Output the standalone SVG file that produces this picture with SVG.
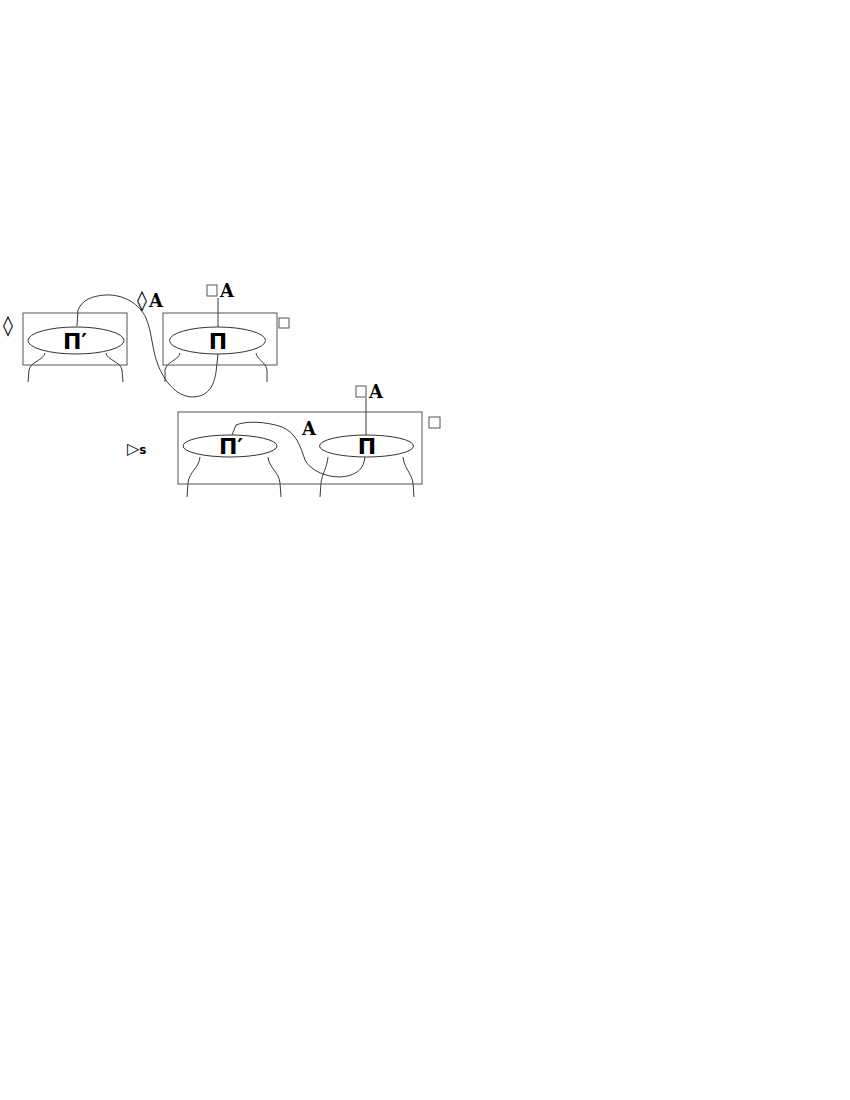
<svg xmlns="http://www.w3.org/2000/svg" width="850" height="1100" viewBox="0 0 850 1100">
<style>
.b{fill:none;stroke:#555;stroke-width:1}
.e{fill:#fff;stroke:#333;stroke-width:1}
.w{fill:none;stroke:#222;stroke-width:0.9}
.t{font-family:"DejaVu Sans","Liberation Sans",sans-serif;font-size:22px;font-weight:bold;fill:#000;text-anchor:middle}
.l{font-family:"DejaVu Serif","Liberation Serif",serif;font-size:18px;font-weight:bold;fill:#000}
.d{font-family:"DejaVu Sans",sans-serif;font-size:20px;font-weight:bold;fill:#000}
.s{font-family:"DejaVu Sans",sans-serif;font-size:16px;font-weight:bold;fill:#000}
.q{fill:none;stroke:#555;stroke-width:1}
</style>
<rect width="850" height="1100" fill="#fff"/>
<g id="connectors">
<path class="w" d="M77,326 L78,310 C82,300 92,296 105,295 C125,294 140,305 146,318 C152,332 152,350 158,365 C164,380 175,396 192,397 C208,397 214,386 216,372 L218,354"/>
<path class="w" d="M218,298 L218,327"/>
<path class="w" d="M45,353 C44,360 30,362 29,370 L28,382"/>
<path class="w" d="M106,353 C107,360 121,362 122,370 L123,382"/>
<path class="w" d="M180,353 C179,360 166,362 165,370 L165,382"/>
<path class="w" d="M256,353 C257,360 266,362 267,370 L267,382"/>
<path class="w" d="M232,435 L236,425 C245,421 265,421 282,427 C296,433 300,445 305,460 C310,470 325,477 340,477 C355,476 362,470 364,462 L365,457"/>
<path class="w" d="M366,398 L366,435"/>
<path class="w" d="M200,457 C199,468 189,472 188,483 L187,497"/>
<path class="w" d="M268,457 C269,468 279,472 280,483 L281,497"/>
<path class="w" d="M328,457 C327,468 322,474 321,483 L320,497"/>
<path class="w" d="M403,457 C404,468 412,474 413,483 L414,497"/>
</g>
<g id="left-box">
<rect class="b" x="23" y="313" width="104" height="52"/>
<ellipse class="e" cx="76" cy="340.5" rx="48" ry="13.5"/>
<text class="t" x="75" y="349">Π′</text>
</g>
<g id="left-diamond"><text class="d" x="3" y="332">◊</text></g>
<g id="right-box">
<rect class="b" x="163" y="313" width="114" height="52"/>
<ellipse class="e" cx="217.5" cy="340.5" rx="48" ry="13.5"/>
<text class="t" x="218" y="349">Π</text>
</g>
<g id="right-square"><rect class="q" x="279" y="318" width="10" height="10"/></g>
<g id="label-diamondA"><text class="d" x="137" y="307">◊</text><text class="l" x="149" y="307">A</text></g>
<g id="label-boxA1"><rect class="q" x="207" y="285" width="10" height="11"/><text class="l" x="220" y="297">A</text></g>
<g id="big-box">
<rect class="b" x="178" y="412" width="244" height="72"/>
<ellipse class="e" cx="230" cy="446" rx="47" ry="11"/>
<ellipse class="e" cx="366.5" cy="446" rx="47" ry="11"/>
<text class="t" x="231" y="454">Π′</text>
<text class="t" x="367" y="454">Π</text>
</g>
<g id="label-A"><text class="l" x="302" y="435">A</text></g>
<g id="label-boxA2"><rect class="q" x="356" y="386" width="10" height="11"/><text class="l" x="369" y="398">A</text></g>
<g id="big-square"><rect class="q" x="429" y="417" width="11" height="11"/></g>
<g id="label-triangle"><text class="s" x="127" y="454">▷<tspan font-size="12">s</tspan></text></g>
</svg>
